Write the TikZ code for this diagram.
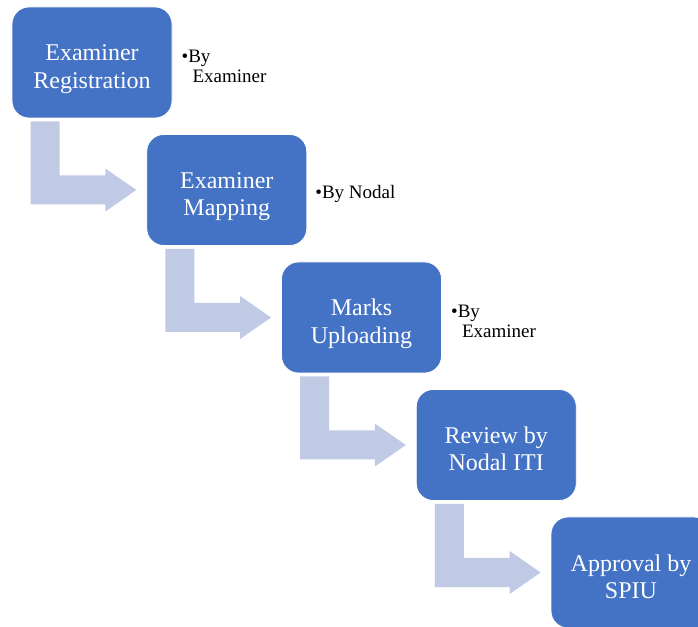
\documentclass[tikz,border=0pt]{standalone}
\usepackage{fontspec}
\setmainfont{Liberation Serif}
\usetikzlibrary{positioning, calc}
\definecolor{stageblue}{HTML}{4472C4}
\definecolor{flowgrey}{HTML}{C1CAE5}

\tikzset{
  stage/.style={draw=white, line width=0.8pt, fill=stageblue, rounded corners=17pt,
    minimum width=160pt, minimum height=111pt, text=white, align=center,
    text height=52pt, text depth=0pt,
    font=\fontsize{24}{27.5}\selectfont},
  note/.style={inner sep=0pt, align=left, yshift=-4pt, font=\fontsize{19}{20.5}\selectfont},
  flow/.style={fill=flowgrey}
}

\begin{document}
\begin{tikzpicture}[x=1pt, y=1pt]
\clip (0,0) rectangle (698,626);

% Stages
\node[stage] (reg) at (92, 563.5) {Examiner\\Registration};
\node[stage] (map) at (226.75, 436) {Examiner\\Mapping};
\node[stage] (upl) at (361.5, 308.5) {Marks\\Uploading};
\node[stage] (rev) at (496.25, 181) {Review by\\Nodal ITI};
\node[stage] (apr) at (631, 53.5) {Approval by\\SPIU};

% Notes
\node[note, right=9pt of reg] (regnote) {•By\\\hspace*{11pt}Examiner};
\node[note, right=8pt of map] (mapnote) {•By Nodal};
\node[note, right=9pt of upl] (uplnote) {•By\\\hspace*{11pt}Examiner};

% Bent arrows
\fill[flow] ($(reg.south west)+(19,-3)$) -- ++(29,0) |- ($(map.west)+(-41,14.5)$)
  -- ++(0,7) -- ($(map.west)+(-10,0)$) -- ++(-31,-21.5) -- ++(0,7)
  -| ($(reg.south west)+(19,-3)$) -- cycle;
\fill[flow] ($(map.south west)+(19,-3)$) -- ++(29,0) |- ($(upl.west)+(-41,14.5)$)
  -- ++(0,7) -- ($(upl.west)+(-10,0)$) -- ++(-31,-21.5) -- ++(0,7)
  -| ($(map.south west)+(19,-3)$) -- cycle;
\fill[flow] ($(upl.south west)+(19,-3)$) -- ++(29,0) |- ($(rev.west)+(-41,14.5)$)
  -- ++(0,7) -- ($(rev.west)+(-10,0)$) -- ++(-31,-21.5) -- ++(0,7)
  -| ($(upl.south west)+(19,-3)$) -- cycle;
\fill[flow] ($(rev.south west)+(19,-3)$) -- ++(29,0) |- ($(apr.west)+(-41,14.5)$)
  -- ++(0,7) -- ($(apr.west)+(-10,0)$) -- ++(-31,-21.5) -- ++(0,7)
  -| ($(rev.south west)+(19,-3)$) -- cycle;

\end{tikzpicture}
\end{document}
